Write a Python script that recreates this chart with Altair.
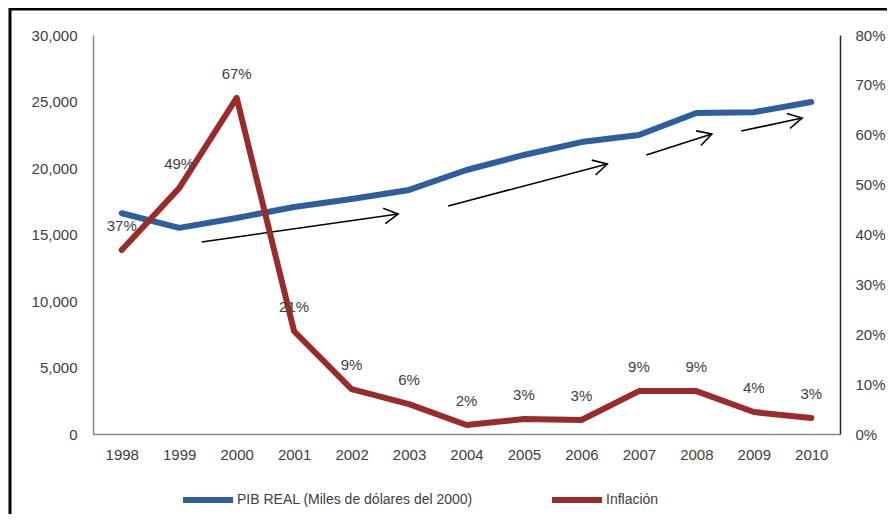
import math
import altair as alt
import pandas as pd

years = [1998, 1999, 2000, 2001, 2002, 2003, 2004, 2005, 2006, 2007, 2008, 2009, 2010]
pib = [16600, 15500, 16240, 17070, 17670, 18350, 19850, 20980, 21950, 22480, 24130, 24200, 24960]
inflacion = [0.369, 0.493, 0.674, 0.206, 0.090, 0.060, 0.018, 0.030, 0.028, 0.086, 0.086, 0.044, 0.032]

serie_pib = "PIB REAL (Miles de dólares del 2000)"
serie_inf = "Inflación"

# trend arrows (year position, PIB value)
arrow_x0 = [1999.39, 2003.68, 2007.13, 2008.78]
arrow_y0 = [14440, 17140, 20980, 22780]
arrow_x1 = [2002.81, 2006.45, 2008.27, 2009.84]
arrow_y1 = [16540, 20300, 22560, 23760]

W, H = 747, 399
BLUE = "#2D5E9E"
RED = "#9A2B2B"
TXT = "#404040"
FONT = "Liberation Sans"

df_pib = pd.DataFrame({"year": years, "v": pib, "serie": serie_pib})
df_inf = pd.DataFrame({"year": years, "v": inflacion, "serie": serie_inf})

# arrow head angles computed from pixel-space direction
px_per_year = W / 13.0
px_per_unit = H / 30000.0
angles = []
for a, b, c, d in zip(arrow_x0, arrow_y0, arrow_x1, arrow_y1):
    dx = (c - a) * px_per_year
    dy = -(d - b) * px_per_unit
    angles.append(math.degrees(math.atan2(dy, dx)) % 360)
df_arr = pd.DataFrame({"x0": arrow_x0, "y0": arrow_y0, "x1": arrow_x1, "y1": arrow_y1, "ang": angles})

xscale = alt.Scale(domain=[1997.5, 2010.5], nice=False, zero=False)
xaxis = alt.Axis(values=years, format="d", title=None, grid=False, ticks=False,
                 labelPadding=13, domainColor="#868686", domainWidth=1.5,
                 labelFontSize=15, labelColor=TXT, labelFont=FONT)

ly_scale = alt.Scale(domain=[0, 30000], nice=False)
ly_axis = alt.Axis(values=list(range(0, 30001, 5000)), format=",.0f", title=None, grid=False,
                   ticks=False, labelPadding=16, domainColor="#868686", domainWidth=1.5,
                   labelFontSize=15, labelColor=TXT, labelFont=FONT, orient="left")

ry_scale = alt.Scale(domain=[0, 0.8], nice=False)
ry_axis = alt.Axis(values=[i / 10 for i in range(0, 9)], format=".0%", title=None, grid=False,
                   ticks=False, labelPadding=15, domainColor="#262626", domainWidth=1.5,
                   labelFontSize=15, labelColor=TXT, labelFont=FONT, orient="right")

color = alt.Color("serie:N", scale=alt.Scale(domain=[serie_pib, serie_inf], range=[BLUE, RED]),
                  legend=alt.Legend(title=None, orient="none", legendX=87, legendY=437,
                                    direction="horizontal", symbolType="stroke", symbolSize=2500,
                                    symbolStrokeWidth=6, labelFontSize=14, labelColor=TXT,
                                    labelFont=FONT, labelOffset=1, columnPadding=67,
                                    labelLimit=500))

pib_line = alt.Chart(df_pib).mark_line(strokeWidth=6, strokeCap="round", strokeJoin="round").encode(
    x=alt.X("year:Q", scale=xscale, axis=xaxis),
    y=alt.Y("v:Q", scale=ly_scale, axis=ly_axis),
    color=color,
)

arrows = alt.Chart(df_arr).mark_rule(color="black", strokeWidth=1.6).encode(
    x=alt.X("x0:Q", scale=xscale, axis=xaxis),
    y=alt.Y("y0:Q", scale=ly_scale, axis=ly_axis),
    x2="x1:Q",
    y2="y1:Q",
)

heads = alt.Chart(df_arr).mark_point(
    shape="M-1,-0.55L0,0L-1,0.55", filled=False, stroke="black", strokeWidth=1.6,
    size=784, opacity=1
).encode(
    x=alt.X("x1:Q", scale=xscale, axis=xaxis),
    y=alt.Y("y1:Q", scale=ly_scale, axis=ly_axis),
    angle=alt.Angle("ang:Q", scale=None),
)

# frame lines around the picture
frame = alt.Chart(pd.DataFrame({"k": [0]})).mark_rule(color="black", strokeWidth=3, clip=False).encode(
    x=alt.value(-83), x2=alt.value(800), y=alt.value(-26)
)
frame2 = alt.Chart(pd.DataFrame({"k": [0]})).mark_rule(color="black", strokeWidth=3, clip=False).encode(
    x=alt.value(-83), y=alt.value(-27), y2=alt.value(485)
)

left_group = alt.layer(pib_line, arrows, heads, frame, frame2)

inf_line = alt.Chart(df_inf).mark_line(strokeWidth=6, strokeCap="round", strokeJoin="round").encode(
    x=alt.X("year:Q", scale=xscale, axis=xaxis),
    y=alt.Y("v:Q", scale=ry_scale, axis=ry_axis),
    color=color,
)

inf_text = alt.Chart(df_inf).mark_text(dy=-24, fontSize=15, color=TXT, font=FONT).encode(
    x=alt.X("year:Q", scale=xscale, axis=xaxis),
    y=alt.Y("v:Q", scale=ry_scale, axis=ry_axis),
    text=alt.Text("v:Q", format=".0%"),
)

right_group = alt.layer(inf_line, inf_text)

chart = alt.layer(left_group, right_group).resolve_scale(y="independent").properties(
    width=W, height=H,
    autosize=alt.AutoSizeParams(type="none"),
    padding={"left": 85, "top": 27, "right": 47, "bottom": 80},
    background="white",
).configure_view(stroke=None).configure_legend(symbolStrokeWidth=6)

chart.save("out.html", embed_options={"renderer": "svg", "actions": False})
